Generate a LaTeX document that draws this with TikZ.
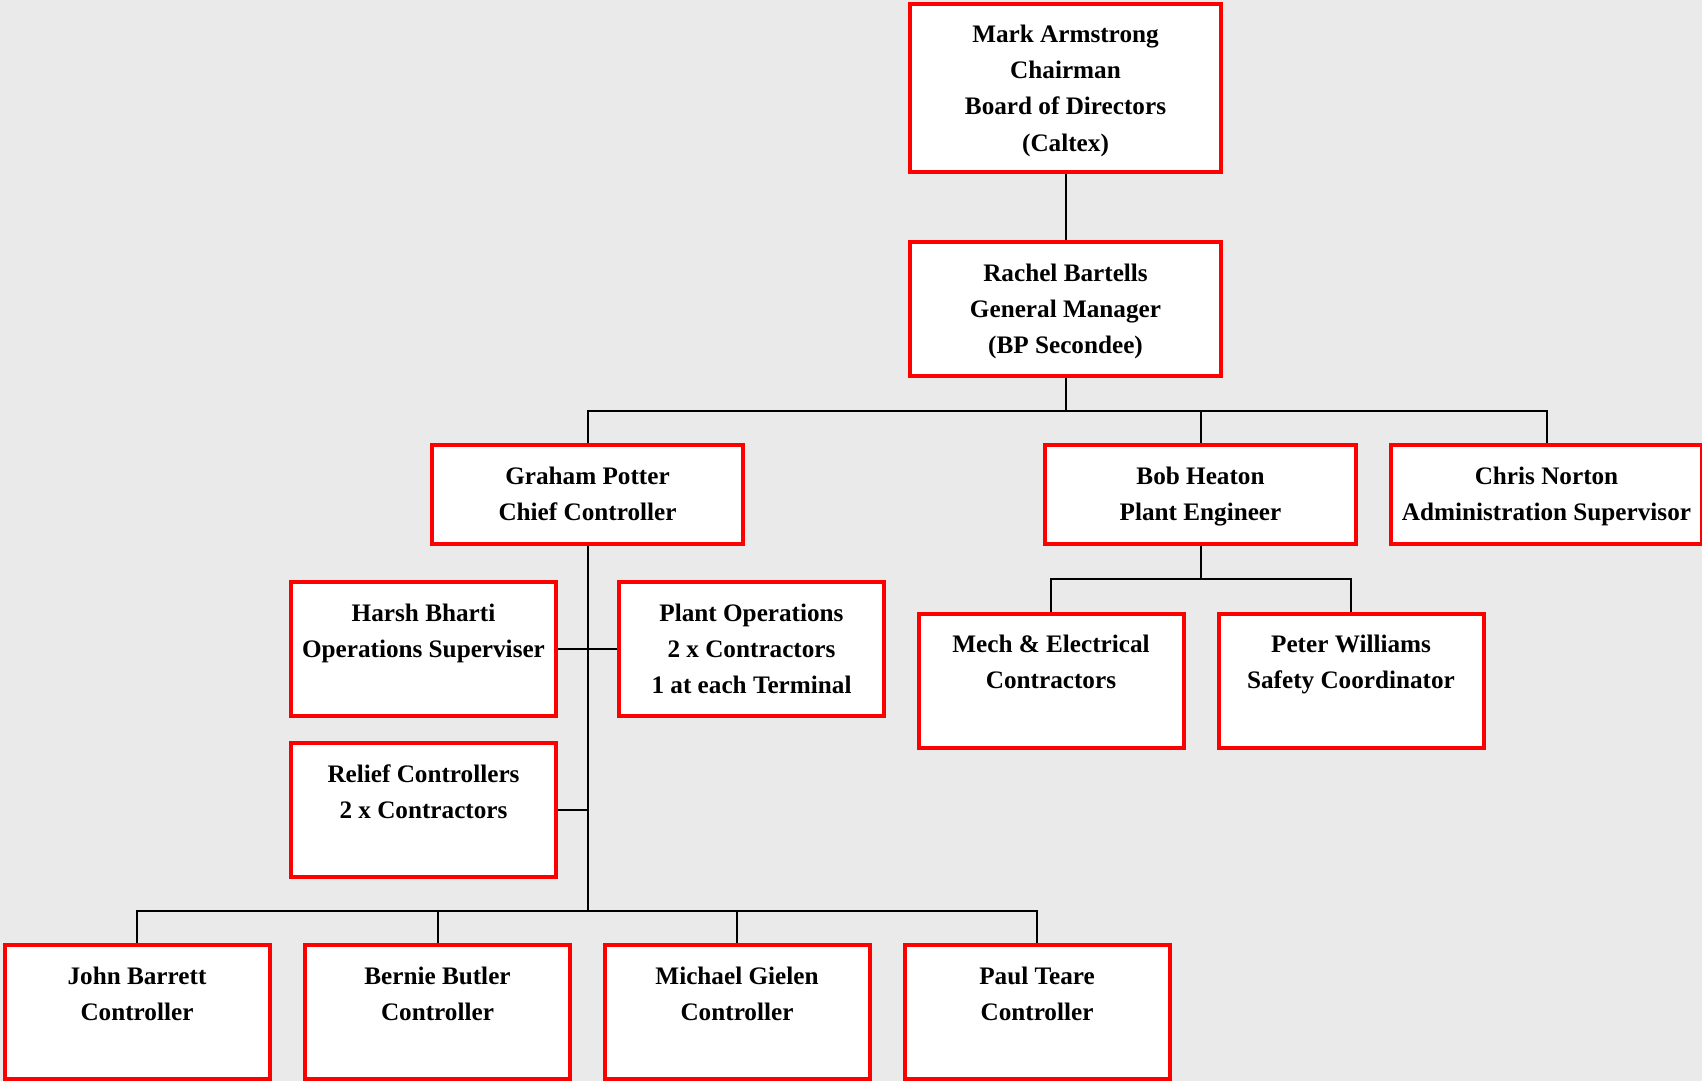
\documentclass[tikz,border=0pt]{standalone}
\usepackage{fontspec}
\setmainfont{Liberation Serif}
\definecolor{bgc}{RGB}{234,234,234}
\pgfdeclarelayer{bg}\pgfdeclarelayer{lines}\pgfsetlayers{bg,lines,main}
\newcommand\bx[3]{\parbox[c][#2][t]{#1}{\centering\rule{0pt}{19.5pt}#3}}
\begin{document}
\begin{tikzpicture}[x=0.5pt,y=-0.5pt,
  box/.style={draw=red,line width=2pt,fill=white,inner sep=0pt,font=\fontsize{12.6}{18}\selectfont\bfseries},
  conn/.style={draw=black,line width=1pt}]
\begin{pgfonlayer}{bg}
\fill[bgc] (0,0) rectangle (1702,1081);
\end{pgfonlayer}
\useasboundingbox (0,0) rectangle (1702,1081);
\node[box] (mark) at (1065.5,88) {\bx{155.5pt}{84pt}{Mark Armstrong\\Chairman\\Board of Directors\\(Caltex)}};
\node[box] (rachel) at (1065.5,309) {\bx{155.5pt}{67pt}{Rachel Bartells\\General Manager\\(BP Secondee)}};
\node[box] (graham) at (587.5,494.5) {\bx{155.5pt}{49.5pt}{Graham Potter\\Chief Controller}};
\node[box] (bob) at (1200.5,494.5) {\bx{155.5pt}{49.5pt}{Bob Heaton\\Plant Engineer}};
\node[box] (chris) at (1546.5,494.5) {\bx{155.5pt}{49.5pt}{Chris Norton\\Administration Supervisor}};
\node[box] (harsh) at (423.5,649) {\bx{132.5pt}{67pt}{Harsh Bharti\\Operations Superviser}};
\node[box] (plant) at (751.5,649) {\bx{132.5pt}{67pt}{Plant Operations\\2 x Contractors\\1 at each Terminal}};
\node[box] (relief) at (423.5,810) {\bx{132.5pt}{67pt}{Relief Controllers\\2 x Contractors}};
\node[box] (mech) at (1051,680.5) {\bx{132.5pt}{67pt}{Mech \& Electrical\\Contractors}};
\node[box] (peter) at (1351,680.5) {\bx{132.5pt}{67pt}{Peter Williams\\Safety Coordinator}};
\node[box] (john) at (137,1012) {\bx{132.5pt}{67pt}{John Barrett\\Controller}};
\node[box] (bernie) at (437.5,1012) {\bx{132.5pt}{67pt}{Bernie Butler\\Controller}};
\node[box] (michael) at (737,1012) {\bx{132.5pt}{67pt}{Michael Gielen\\Controller}};
\node[box] (paul) at (1037,1012) {\bx{132.5pt}{67pt}{Paul Teare\\Controller}};
\coordinate (b1) at (1065.5,411);
\coordinate (b2) at (587.5,911);
\coordinate (b3) at (1200.5,579);
\begin{pgfonlayer}{lines}
\draw[conn] (mark.south) -- (rachel.north);
\draw[conn] (rachel.south) -- (b1);
\draw[conn] (graham.north) |- (b1) -| (chris.north);
\draw[conn] (bob.north) -- (bob.north |- b1);
\draw[conn] (graham.south) -- (b2);
\draw[conn] (harsh.east) -- (plant.west);
\draw[conn] (relief.east) -- (relief.east -| graham.south);
\draw[conn] (john.north) |- (b2) -| (paul.north);
\draw[conn] (bernie.north) -- (bernie.north |- b2);
\draw[conn] (michael.north) -- (michael.north |- b2);
\draw[conn] (bob.south) -- (b3);
\draw[conn] (mech.north) |- (b3) -| (peter.north);
\end{pgfonlayer}
\end{tikzpicture}
\end{document}
